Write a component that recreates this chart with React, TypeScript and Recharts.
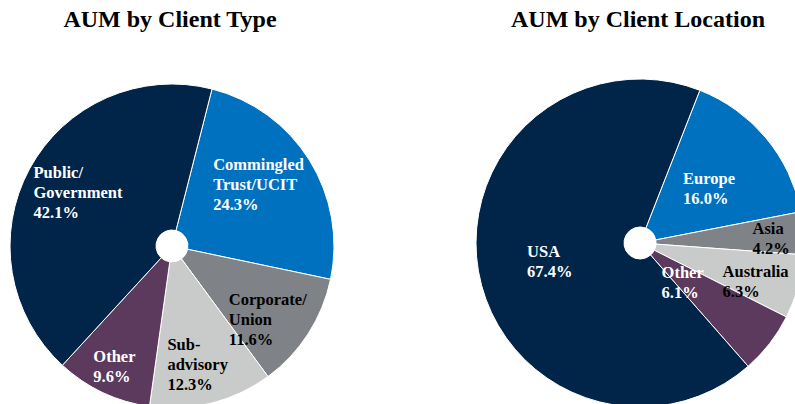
import { Cell, Pie, PieChart } from "recharts";

const typeCategories = ["Commingled Trust/UCIT", "Corporate/Union", "Sub-advisory", "Other", "Public/Government"];
const typeLines = [["Commingled", "Trust/UCIT"], ["Corporate/", "Union"], ["Sub-", "advisory"], ["Other"], ["Public/", "Government"]];
const typeValues = [24.3, 11.6, 12.3, 9.6, 42.1];

const locationCategories = ["Europe", "Asia", "Australia", "Other", "USA"];
const locationLines = [["Europe"], ["Asia"], ["Australia"], ["Other"], ["USA"]];
const locationValues = [16.0, 4.2, 6.3, 6.1, 67.4];

const NAVY = "#012549";
const BLUE = "#0071bf";
const GRAY = "#7f8287";
const LIGHT = "#c9cbca";
const PURPLE = "#5b3a5e";

const sliceColors = [BLUE, GRAY, LIGHT, PURPLE, NAVY];
const textColors = ["#fff", "#000", "#000", "#fff", "#fff"];

const FONT = "'Liberation Serif', 'Times New Roman', serif";
const LABEL_SIZE = 16.5;

// label placement: [fraction of outer radius, angle tweak in degrees]
const typeLabelPos: [number, number][] = [[0.66, 4], [0.74, -4.2], [0.74, -1.8], [0.82, -0.4], [0.67, -1.5]];
const locationLabelPos: [number, number][] = [[0.54, -1], [0.8, -1.2], [0.74, -2.3], [0.35, -4.2], [0.56, 0.8]];

const typeData = typeCategories.map((name, i) => ({ name, value: typeValues[i] }));
const locationData = locationCategories.map((name, i) => ({ name, value: locationValues[i] }));

let ctx: CanvasRenderingContext2D | null = null;
function measure(t: string) {
  if (!ctx) ctx = document.createElement("canvas").getContext("2d");
  if (!ctx) return t.length * 8.5;
  ctx.font = `bold ${LABEL_SIZE}px ${FONT}`;
  return ctx.measureText(t).width;
}

function makeLabel(lines: string[][], pos: [number, number][]) {
  return (p: any) => {
    const i = p.index;
    const [f, da] = pos[i];
    const a = ((p.midAngle + da) * Math.PI) / 180;
    const r = p.outerRadius * f;
    const px = p.cx + r * Math.cos(a);
    const py = p.cy - r * Math.sin(a);
    const rows = [...lines[i], `${p.value.toFixed(1)}%`];
    const w = Math.max(...rows.map(measure));
    const x0 = px - w / 2;
    const y0 = py - (rows.length - 1) * 10 + 6.5;
    return (
      <text
        key={`l-${i}`}
        fontFamily={FONT}
        fontWeight="bold"
        fontSize={LABEL_SIZE}
        fill={textColors[i]}
        textAnchor="start"
      >
        {rows.map((t, k) => (
          <tspan key={k} x={x0} y={y0 + k * 20}>
            {t}
          </tspan>
        ))}
      </text>
    );
  };
}

const titleStyle: React.CSSProperties = {
  position: "absolute",
  top: 7,
  width: 340,
  textAlign: "center",
  fontFamily: FONT,
  fontWeight: "bold",
  fontSize: 24,
  lineHeight: "24px",
  color: "#000",
};

export default function App() {
  return (
    <div style={{ position: "absolute", left: 0, top: 0, width: 795, height: 404, overflow: "hidden", background: "#fff" }}>
      <PieChart width={795} height={404} margin={{ top: 0, right: 0, bottom: 0, left: 0 }}>
        <Pie
          data={typeData}
          dataKey="value"
          nameKey="name"
          cx={172}
          cy={246}
          innerRadius={16}
          outerRadius={162}
          startAngle={75.7}
          endAngle={-284.3}
          stroke="#fff"
          strokeWidth={1}
          label={makeLabel(typeLines, typeLabelPos)}
          labelLine={false}
          isAnimationActive={false}
        >
          {typeData.map((d, i) => (
            <Cell key={d.name} fill={sliceColors[i]} />
          ))}
        </Pie>
        <Pie
          data={locationData}
          dataKey="value"
          nameKey="name"
          cx={640}
          cy={243}
          innerRadius={16}
          outerRadius={164}
          startAngle={68.6}
          endAngle={-291.4}
          stroke="#fff"
          strokeWidth={1}
          label={makeLabel(locationLines, locationLabelPos)}
          labelLine={false}
          isAnimationActive={false}
        >
          {locationData.map((d, i) => (
            <Cell key={d.name} fill={sliceColors[i]} />
          ))}
        </Pie>
      </PieChart>
      <div style={{ ...titleStyle, left: 0 }}>AUM by Client Type</div>
      <div style={{ ...titleStyle, left: 468 }}>AUM by Client Location</div>
    </div>
  );
}
